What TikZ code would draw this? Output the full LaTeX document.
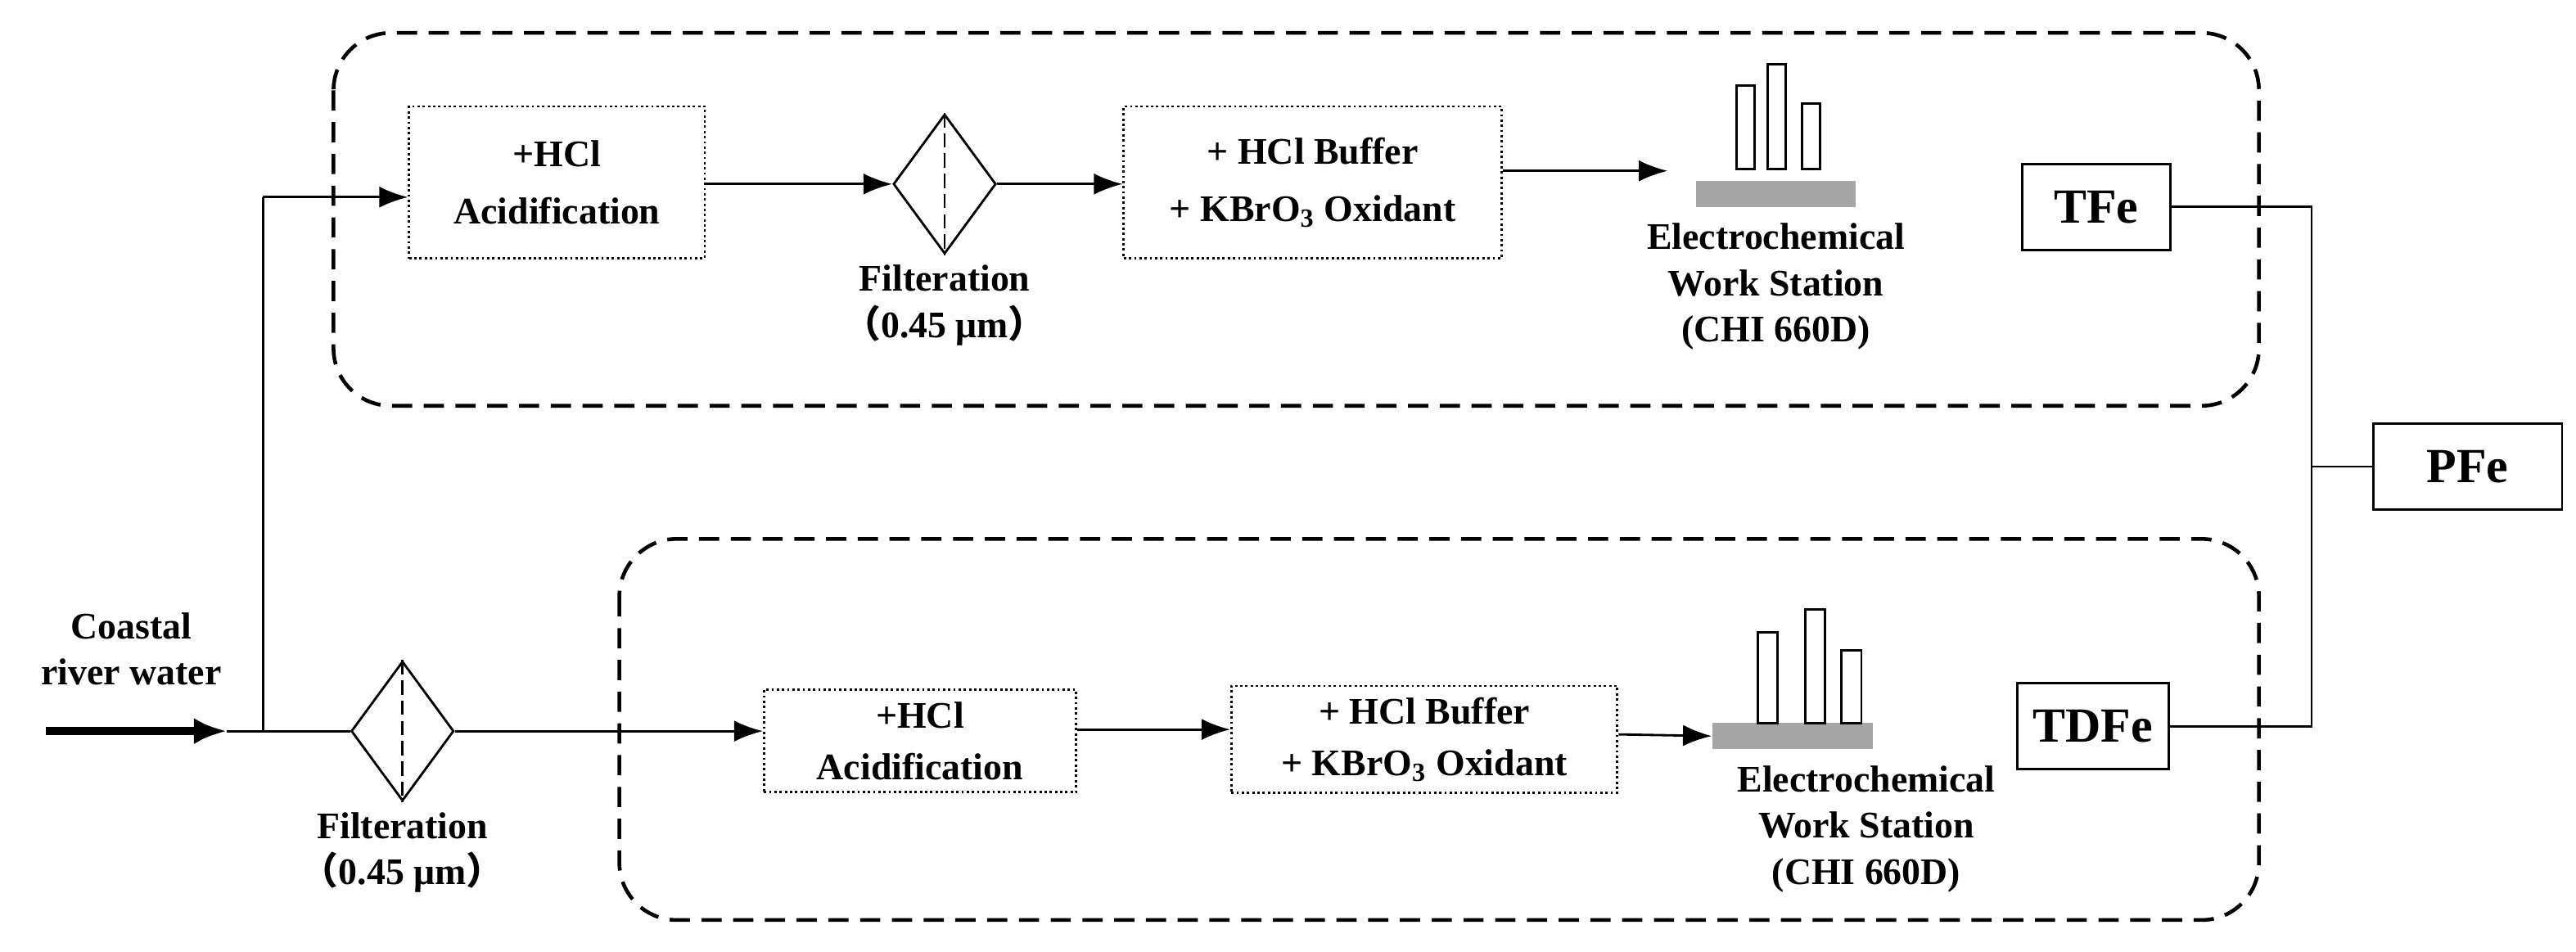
\documentclass[tikz,border=0pt]{standalone}
\usepackage{fontspec}
\setmainfont{Liberation Serif}
\newfontfamily\cjk{Noto Sans CJK SC}
\usetikzlibrary{arrows.meta, positioning, shapes.geometric, calc}

\tikzset{
  txt/.style={font=\fontsize{13}{16}\selectfont\bfseries, align=center},
  stage/.style={txt, rectangle, draw, densely dotted, thick, minimum width=3.6cm, minimum height=1.85cm},
  result/.style={rectangle, draw, thick, font=\fontsize{17}{20}\selectfont\bfseries, minimum height=1.05cm},
  filter/.style={diamond, draw, thick, minimum width=1.25cm, minimum height=1.7cm, inner sep=0pt},
  group/.style={draw, dash pattern=on 7pt off 4pt, line width=1.3pt, rounded corners=0.7cm},
  flow/.style={-{Latex[length=3.5mm, width=2.6mm]}, thick},
  base/.style={fill=gray!70, draw=none, minimum width=1.95cm, minimum height=0.32cm, inner sep=0pt},
  bar/.style={draw, thick, fill=white}
}

\begin{document}
\begin{tikzpicture}[x=0.02cm, y=-0.02cm]
  \useasboundingbox (0,0) rectangle (1568,579);

  % dashed groups
  \draw[group] (203,20) rectangle (1375,247);
  \draw[group] (377,328) rectangle (1375,560);

  % source
  \node[txt] (src) at (80,395) {Coastal\\river water};
  \coordinate (in) at (28,445);
  \coordinate (J) at (160,445);
  \coordinate (Jt) at (160,120);
  \draw[-{Latex[length=4mm, width=3.2mm]}, line width=3pt] (in) -- (138,445);
  \draw[thick] (138,445) -- (J);

  % top row: total iron
  \node[stage] (A1) at (339,111) {+HCl\\[4pt]Acidification};
  \node[filter] (F1) at (575,112) {};
  \draw[thick, dash pattern=on 5pt off 2pt] (F1.north) -- (F1.south);
  \node[txt, below=0pt of F1] (F1l) {Filteration\\{\cjk （}0.45 μm{\cjk ）}};
  \node[stage, minimum width=4.6cm] (B1) at (799,111) {+ HCl Buffer\\[4pt]+ KBrO$_\mathbf{3}$ Oxidant};
  \node[base] (S1) at (1081,118) {};
  \draw[bar] (1057,103) rectangle (1068,52);
  \draw[bar] (1076,103) rectangle (1087,39);
  \draw[bar] (1097,103) rectangle (1108,63);
  \node[txt, below=2pt of S1] (S1l) {Electrochemical\\Work Station\\(CHI 660D)};
  \node[result, minimum width=1.8cm] (TFe) at (1276,126) {TFe};

  \draw[thick] (J) -- (Jt);
  \draw[flow] (Jt) -- (A1.west |- Jt);
  \draw[flow] (A1.east |- F1) -- (F1.west);
  \draw[flow] (F1.east) -- (B1.west |- F1);
  \draw[flow] (B1.east |- 0,104) -- (1015,104);

  % bottom row: dissolved iron
  \node[filter] (F2) at (245,445) {};
  \draw[thick, dash pattern=on 5pt off 2pt] (F2.north) -- (F2.south);
  \node[txt, below=0pt of F2] (F2l) {Filteration\\{\cjk （}0.45 μm{\cjk ）}};
  \node[stage, minimum width=3.8cm, minimum height=1.25cm] (A2) at (560,451) {+HCl\\[2pt]Acidification};
  \node[stage, minimum width=4.7cm, minimum height=1.3cm] (B2) at (867,450) {+ HCl Buffer\\[2pt]+ KBrO$_\mathbf{3}$ Oxidant};
  \node[base] (S2) at (1091,448) {};
  \draw[bar] (1070,440) rectangle (1082,385);
  \draw[bar] (1099,440) rectangle (1111,371);
  \draw[bar] (1121,440) rectangle (1133,396);
  \node[txt, below=2pt of S2, xshift=0.9cm] (S2l) {Electrochemical\\Work Station\\(CHI 660D)};
  \node[result, minimum width=1.85cm] (TDFe) at (1274,442) {TDFe};

  \draw[thick] (J) -- (F2.west);
  \draw[flow] (F2.east) -- (A2.west |- F2);
  \draw[flow] (A2.east |- 0,444) -- (B2.west |- 0,444);
  \draw[flow] (B2.east |- 0,447) -- (S2.west);

  % particulate iron
  \node[result, minimum width=2.3cm] (PFe) at (1502,284) {PFe};
  \coordinate (K) at (1407,284);
  \draw[thick] (TFe.east) -| (K) |- (TDFe.east);
  \draw[thick] (K) -- (PFe.west);
\end{tikzpicture}
\end{document}
